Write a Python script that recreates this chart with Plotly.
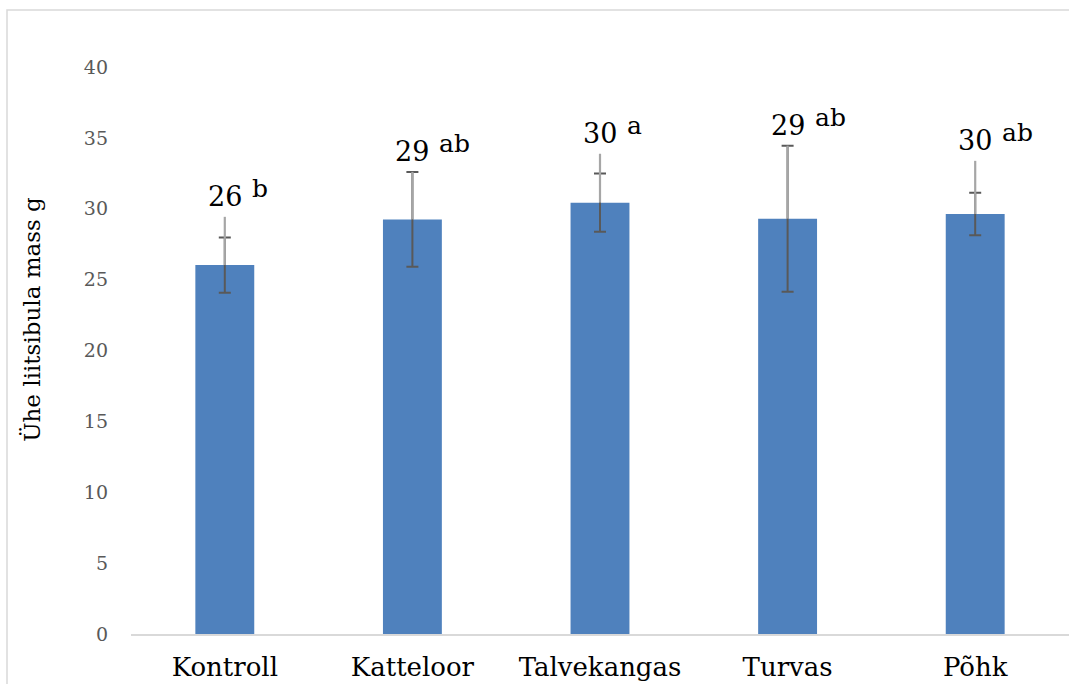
import plotly.graph_objects as go

# Treatments and measured mean single-bulb mass (g)
categories = ["Kontroll", "Katteloor", "Talvekangas", "Turvas", "Põhk"]
mean_mass = [26.03, 29.25, 30.43, 29.3, 29.63]
# symmetric whisker (dark, capped)
err_sym = [1.95, 3.35, 2.05, 5.15, 1.5]
# upper whisker (light, no cap)
err_upper = [3.4, 3.35, 3.45, 5.15, 3.75]
# significance letters
letters = ["b", "ab", "a", "ab", "ab"]
y_ticks = [0, 5, 10, 15, 20, 25, 30, 35, 40]

FONT = "DejaVu Serif"
BAR_COLOR = "#4F81BD"

fig = go.Figure()

fig.add_trace(go.Bar(
    x=categories,
    y=mean_mass,
    marker=dict(color=BAR_COLOR, line=dict(width=0)),
    error_y=dict(type="data", array=err_sym, symmetric=True,
                 color="#595959", thickness=2, width=6),
    showlegend=False,
    hoverinfo="skip",
))

fig.add_trace(go.Scatter(
    x=categories,
    y=mean_mass,
    mode="markers",
    marker=dict(opacity=0, size=1),
    error_y=dict(type="data", array=err_upper, arrayminus=[0] * len(err_upper),
                 symmetric=False, color="#a6a6a6", thickness=2.2, width=0),
    showlegend=False,
    hoverinfo="skip",
))

annotations = []
for cat, m, up, let in zip(categories, mean_mass, err_upper, letters):
    top = max(m + up, m)
    annotations.append(dict(
        x=cat, y=top, xref="x", yref="y", text=f"{round(m)}",
        showarrow=False, xanchor="center", yanchor="bottom", yshift=3,
        font=dict(family=FONT, size=27, color="#000000"),
    ))
    annotations.append(dict(
        x=cat, y=top, xref="x", yref="y", text=let,
        showarrow=False, xanchor="left", yanchor="bottom", yshift=12, xshift=25,
        font=dict(family=FONT, size=25, color="#000000"),
    ))

annotations.append(dict(
    x=-0.105, y=0.555, xref="paper", yref="paper",
    text="Ühe liitsibula mass g", textangle=-90, showarrow=False,
    xanchor="center", yanchor="middle",
    font=dict(family=FONT, size=23, color="#000000"),
))

fig.update_layout(
    width=1069,
    height=684,
    margin=dict(l=131, r=0, t=67, b=50, pad=0),
    paper_bgcolor="white",
    plot_bgcolor="white",
    bargap=0.686,
    annotations=annotations,
    shapes=[dict(
        type="rect", xref="paper", yref="paper",
        x0=-0.1322, x1=1.05, y0=-0.3, y1=1.1005,
        line=dict(color="#d9d9d9", width=1.5), layer="below",
    )],
)

fig.update_xaxes(
    showgrid=False,
    showline=True, linecolor="#d9d9d9", linewidth=1.5,
    ticks="",
    tickfont=dict(family=FONT, size=26, color="#000000"),
    ticklabelstandoff=9,
)

fig.update_yaxes(
    range=[0, 40],
    tickvals=y_ticks,
    showgrid=False,
    showline=False,
    zeroline=False,
    ticks="",
    ticklabelstandoff=22,
    tickfont=dict(family=FONT, size=19, color="#595959"),
)

fig.write_html("out.html")
